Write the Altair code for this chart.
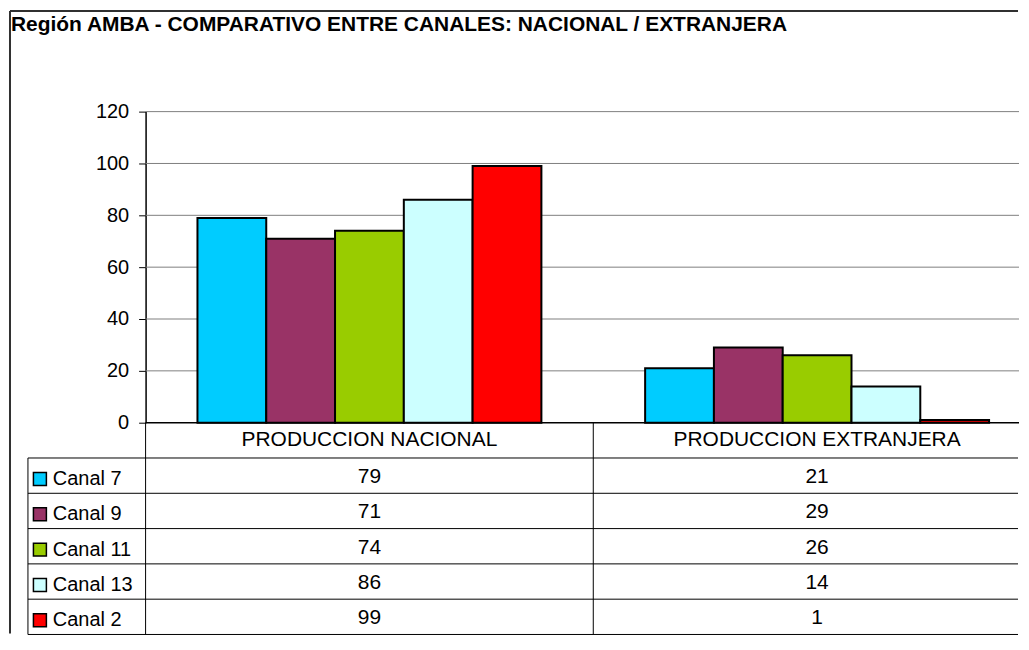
import altair as alt
import pandas as pd

TITLE = "Región AMBA - COMPARATIVO ENTRE CANALES: NACIONAL / EXTRANJERA"
categories = ["PRODUCCION NACIONAL", "PRODUCCION EXTRANJERA"]
channels = ["Canal 7", "Canal 9", "Canal 11", "Canal 13", "Canal 2"]
nacional = [79, 71, 74, 86, 99]
extranjera = [21, 29, 26, 14, 1]
colors = ["#00CCFF", "#993366", "#99CC00", "#CCFFFF", "#FF0000"]
y_ticks = [0, 20, 40, 60, 80, 100, 120]

rows = []
for ch, n, e in zip(channels, nacional, extranjera):
    rows.append({"categoria": categories[0], "canal": ch, "valor": n})
    rows.append({"categoria": categories[1], "canal": ch, "valor": e})
df = pd.DataFrame(rows)

FONT = "Liberation Sans"
W = 876
H_TOP = 312
ROW = 35.4
H_TAB = ROW * 6
X_RANGE = [0, 898]
HDR = "_hdr"


def x_scale():
    return alt.Scale(domain=categories, range=X_RANGE, paddingInner=0, paddingOuter=0)


y_scale = alt.Scale(domain=[0, 120], nice=False)

# ---------------- top: bar chart ----------------
grid = alt.Chart(pd.DataFrame({"v": y_ticks[1:]})).mark_rule(color="#808080", strokeWidth=1).encode(
    y=alt.Y("v:Q", scale=y_scale)
)
zero_line = alt.Chart(pd.DataFrame({"v": y_ticks[:1]})).mark_rule(color="black", strokeWidth=1.5).encode(
    y=alt.Y("v:Q", scale=y_scale)
)

bars = alt.Chart(df).mark_bar(stroke="black", strokeWidth=2).encode(
    x=alt.X("categoria:N", scale=x_scale(), sort=categories, axis=None),
    xOffset=alt.XOffset("canal:N", sort=channels,
                        scale=alt.Scale(domain=channels, paddingInner=0, paddingOuter=0.754)),
    y=alt.Y(
        "valor:Q", scale=y_scale,
        axis=alt.Axis(title=None, values=y_ticks, grid=False, domainColor="black",
                      domainWidth=1.5, tickColor="black", tickSize=7, tickWidth=1,
                      labelFont=FONT, labelFontSize=20, labelColor="black", labelPadding=10),
    ),
    color=alt.Color(
        "canal:N", sort=channels, scale=alt.Scale(domain=channels, range=colors),
        legend=alt.Legend(title=None, orient="none", legendX=-116, legendY=358.5,
                          direction="vertical", symbolType="square", symbolSize=169,
                          symbolStrokeColor="black", symbolStrokeWidth=1.5, symbolOpacity=1,
                          labelFont=FONT, labelFontSize=20, labelColor="black", labelOffset=3,
                          rowPadding=15.4, padding=0),
    ),
)

title_layer = alt.Chart(pd.DataFrame({"t": [TITLE]})).mark_text(
    align="left", baseline="alphabetic", font=FONT, fontSize=21, fontWeight="bold", color="black"
).encode(text="t:N", x=alt.value(-135), y=alt.value(29 - 110))

one = alt.Data(values=[{}])
frame_left = alt.Chart(one).mark_rule(color="#303030", strokeWidth=2).encode(
    x=alt.value(-136), y=alt.value(-101), y2=alt.value(H_TOP + H_TAB - 1)
)
frame_top = alt.Chart(one).mark_rule(color="#303030", strokeWidth=2).encode(
    x=alt.value(-136), x2=alt.value(W - 1), y=alt.value(-101)
)

top = alt.layer(grid, bars, zero_line, title_layer, frame_left, frame_top).properties(
    width=W, height=H_TOP
)

# ---------------- bottom: data table ----------------
tab_y_scale = alt.Scale(domain=[HDR] + channels, paddingInner=0, paddingOuter=0)

header_text = alt.Chart(pd.DataFrame({"categoria": categories, "canal": [HDR] * len(categories)})).mark_text(
    font=FONT, fontSize=21, color="black", baseline="alphabetic", dy=6
).encode(
    x=alt.X("categoria:N", scale=x_scale(), sort=categories, axis=None),
    y=alt.Y("canal:N", scale=tab_y_scale, axis=None),
    text="categoria:N",
)
value_text = alt.Chart(df).mark_text(font=FONT, fontSize=21, color="black", baseline="alphabetic", dy=7.5).encode(
    x=alt.X("categoria:N", scale=x_scale(), sort=categories, axis=None),
    y=alt.Y("canal:N", scale=tab_y_scale, axis=None),
    text="valor:Q",
)
row_lines = alt.Chart(pd.DataFrame({"canal": channels})).mark_rule(color="black", strokeWidth=1).encode(
    y=alt.Y("canal:N", scale=tab_y_scale, bandPosition=0, axis=None),
    x=alt.value(-118), x2=alt.value(W - 1),
)
bottom_line = alt.Chart(pd.DataFrame({"canal": channels[-1:]})).mark_rule(color="black", strokeWidth=1).encode(
    y=alt.Y("canal:N", scale=tab_y_scale, bandPosition=1, axis=None),
    x=alt.value(-118), x2=alt.value(W - 1),
)
col_lines = alt.Chart(pd.DataFrame({"categoria": categories})).mark_rule(color="black", strokeWidth=1).encode(
    x=alt.X("categoria:N", scale=x_scale(), sort=categories, bandPosition=0, axis=None)
)
table_left = alt.Chart(one).mark_rule(color="black", strokeWidth=1).encode(
    x=alt.value(-118), y=alt.value(ROW), y2=alt.value(H_TAB)
)
table = alt.layer(header_text, value_text, row_lines, bottom_line, col_lines, table_left).properties(
    width=W, height=H_TAB
)

chart = (
    alt.vconcat(top, table, spacing=0, bounds="flush")
    .resolve_scale(color="independent", x="independent")
    .properties(padding=0, background="white")
    .configure_view(stroke="transparent")
)

chart.save("out.html", embed_options={"renderer": "svg", "actions": False})
